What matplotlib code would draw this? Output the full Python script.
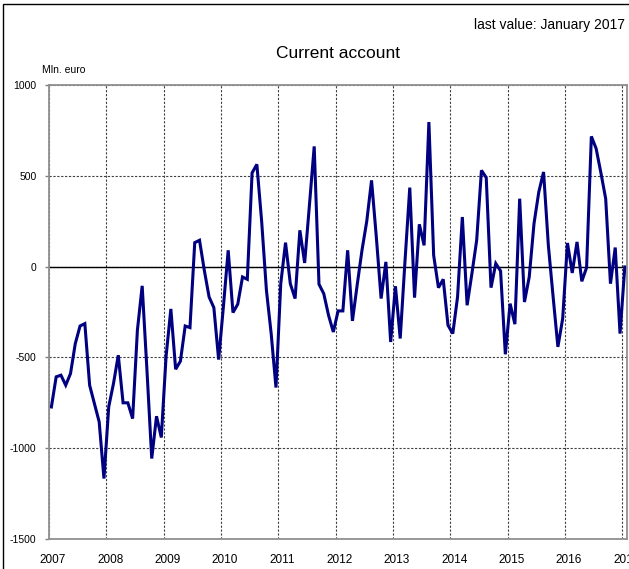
import matplotlib
matplotlib.use("Agg")
import matplotlib.pyplot as plt
import matplotlib.transforms as mtransforms

# monthly current account, Mln. euro, Jan 2007 .. Jan 2017
values = [
    -773, -607, -598, -653, -589, -424, -327, -314, -653, -754, -855, -1167,   # 2007
    -772, -643, -488, -750, -750, -837, -350, -106, -571, -1057, -824, -941,   # 2008
    -495, -233, -565, -521, -327, -336, 132, 145, -20, -167, -226, -512,       # 2009
    -220, 90, -253, -207, -57, -70, 516, 563, 250, -130, -370, -666,           # 2010
    -94, 132, -94, -176, 200, 20, 338, 662, -97, -149, -268, -360,             # 2011
    -244, -244, 90, -299, -100, 90, 250, 475, 163, -176, 26, -415,             # 2012
    -108, -396, 30, 435, -171, 233, 117, 796, 62, -116, -70, -323,             # 2013
    -369, -167, 273, -213, -39, 145, 530, 490, -116, 17, -24, -483,            # 2014
    -204, -317, 374, -195, -57, 237, 411, 521, 117, -167, -442, -286,          # 2015
    130, -35, 136, -81, -6, 717, 650, 516, 374, -94, 105, -369,                # 2016
    -2,                                                                        # 2017
]
years = list(range(2007, 2018))
yticks = [1000, 500, 0, -500, -1000, -1500]

x = [2007 + (i + 0.5) / 12 for i in range(len(values))]

narrow = ["Liberation Sans Narrow", "Liberation Sans", "DejaVu Sans"]

fig = plt.figure(figsize=(6.29, 5.69), dpi=100)
ax = fig.add_axes([49 / 629, 1 - 539 / 569, 578 / 629, 454 / 569])

ax.plot(x, values, color="#000080", linewidth=2.2, solid_joinstyle="miter")
ax.axhline(0, color="black", linewidth=1.0, zorder=1)

ax.set_xlim(2007, 2017.08)
ax.set_ylim(-1500, 1000)
ax.set_yticks(yticks)
ax.set_yticklabels([str(v) for v in yticks], family=narrow, fontsize=7.5)
ax.set_xticks(years)
ax.set_xticklabels([str(y) for y in years], family=narrow, fontsize=8.5)
ax.tick_params(axis="x", length=0, pad=11)
ax.tick_params(axis="y", length=3, width=1, color="#808080", pad=6)

# labels sit a little right of the year gridlines
shift = mtransforms.ScaledTranslation(4 / 100, 0, fig.dpi_scale_trans)
for lbl in ax.get_xticklabels():
    lbl.set_transform(lbl.get_transform() + shift)

ax.grid(True, color="#404040", linestyle=(0, (2, 1.5)), linewidth=0.8)
ax.set_axisbelow(True)

for side in ["left", "bottom", "right"]:
    ax.spines[side].set_color("#909090")
    ax.spines[side].set_linewidth(1.3)
ax.spines["top"].set_color("#909090")
ax.spines["top"].set_linestyle((0, (2, 1)))
ax.spines["top"].set_linewidth(1.3)

fig.text(338 / 629, 1 - 53 / 569, "Current account", ha="center", va="center",
         family=narrow, fontsize=12.5)
fig.text(625 / 629, 1 - 25 / 569, "last value: January 2017", ha="right", va="center",
         family=narrow, fontsize=10)
fig.text(42 / 629, 1 - 70 / 569, "Mln. euro", ha="left", va="center",
         family=narrow, fontsize=7.5)

# outer frame
fig.patches.append(plt.Rectangle((3 / 629, -0.1), 1.2, 1 - 4 / 569 + 0.1,
                                 transform=fig.transFigure, fill=False,
                                 edgecolor="black", linewidth=1.0))

fig.savefig("out.png", dpi=100)
